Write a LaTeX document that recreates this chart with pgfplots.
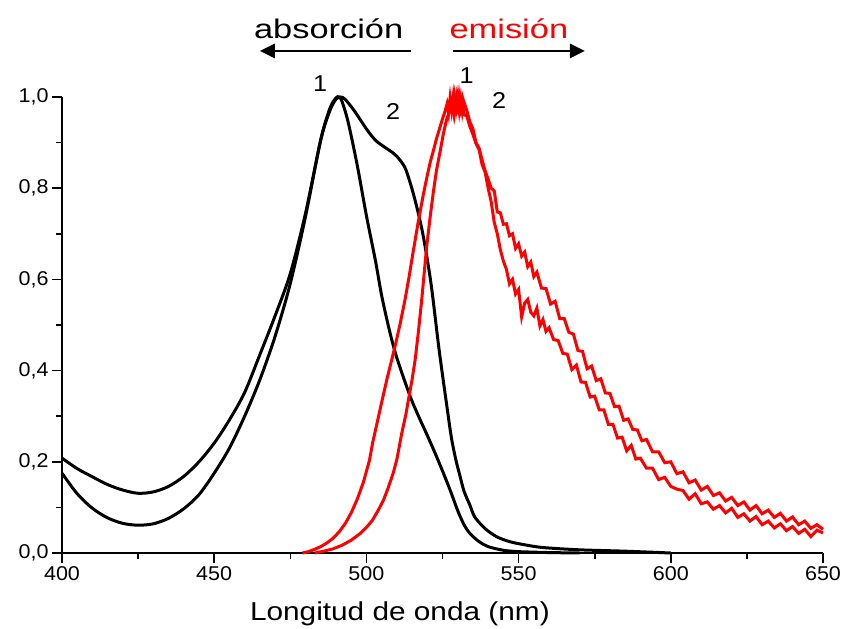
\documentclass[border=0pt]{standalone}
\usepackage{fontspec}
\setmainfont{Liberation Sans}
\newfontfamily\tickfont[FakeStretch=1.08]{Liberation Sans}
\newfontfamily\labfont[FakeStretch=1.15]{Liberation Sans}
\newfontfamily\titfont[FakeStretch=1.28]{Liberation Sans}
\newfontfamily\numfont[FakeStretch=1.1]{Liberation Sans}
\usepackage{pgfplots}
\pgfplotsset{compat=1.18}
\usetikzlibrary{arrows.meta}

\begin{document}
\begin{tikzpicture}
\begin{axis}[
  scale only axis, width=761bp, height=456bp,
  xmin=400, xmax=650, ymin=0, ymax=1,
  axis x line*=bottom, axis y line*=left,
  axis line style={line width=1.8bp},
  tick align=outside,
  major tick length=10bp, minor tick length=6bp,
  every tick/.style={line width=1.6bp, black},
  xtick={400,450,500,550,600,650}, minor x tick num=1,
  ytick={0,0.2,0.4,0.6,0.8,1.0}, minor y tick num=1,
  y tick label style={/pgf/number format/.cd, fixed, fixed zerofill, precision=1, use comma, assume math mode=true},
  x tick label style={/pgf/number format/.cd, fixed, precision=0, 1000 sep={}, assume math mode=true},
  tick label style={font=\tickfont\fontsize{20}{24}\selectfont},
  xlabel={Longitud de onda (nm)},
  xlabel style={font=\labfont\fontsize{26}{30}\selectfont, at={(axis description cs:0.444,0)}, anchor=base, yshift=-67bp},
  clip=false,
]
% absorption 1 (narrow)
\addplot[black, line width=3bp, smooth] coordinates {
(400,0.175) (405,0.130) (410,0.098) (415,0.077) (420,0.065) (425,0.061) (430,0.064)
(435,0.076) (440,0.097) (445,0.128) (450,0.175) (455,0.230) (460,0.300) (465,0.380)
(470,0.475) (475,0.591) (480,0.738) (485,0.906) (488,0.975) (490,0.998) (491,1.0)
(492,0.99) (494,0.945) (497,0.85) (500,0.74) (503,0.64) (505,0.565) (507.5,0.49)
(510,0.428) (514.3,0.345) (517,0.302) (520,0.258) (522.5,0.22) (525,0.180) (527.5,0.138)
(530,0.093) (532,0.063) (534,0.043) (537,0.025) (540,0.014) (545,0.006) (550,0.003)
(560,0.001) (570,0.0)
};
% absorption 2 (broad)
\addplot[black, line width=3bp, smooth] coordinates {
(400,0.208) (405,0.185) (410,0.167) (415,0.150) (420,0.138) (425,0.131) (430,0.134)
(435,0.146) (440,0.168) (445,0.200) (450,0.241) (455,0.292) (460,0.352) (465,0.435)
(470,0.52) (475,0.613) (480,0.745) (485,0.906) (488,0.97) (490,0.995)
(491.5,1.0) (493,0.995) (496,0.97) (500,0.93) (503,0.905) (506,0.89) (509,0.876)
(511,0.862) (513,0.84) (515.7,0.781) (518.5,0.701) (521.2,0.592) (523.9,0.445)
(526.6,0.314) (528,0.25) (529.4,0.204) (530.7,0.17) (532.1,0.135) (534,0.105)
(535.5,0.08) (538,0.06) (540,0.048) (543,0.035) (547,0.025) (552,0.018) (558,0.012)
(570,0.007) (585,0.004) (600,0.0)
};
% emission 1
\addplot[red, line width=3bp] coordinates {
(479,0.000) (481,0.003) (483,0.008) (485,0.014) (487,0.022) (489,0.032) (491,0.046)
(493,0.064) (495,0.088) (497,0.118) (499,0.155) (501,0.203) (502,0.240) (503.4,0.282)
(505,0.330) (506.7,0.380) (508,0.415) (509.4,0.453) (511,0.500) (512.7,0.556)
(514,0.605) (515.4,0.662) (517,0.725) (518.7,0.786) (520,0.828) (521,0.858)
(522,0.882) (523,0.908) (524,0.930) (525,0.952) (525.8,0.968) (526.5,0.985)
(527,0.965) (527.5,0.998) (528,0.972) (528.5,1.000) (529,0.968) (529.5,0.995)
(530,0.962) (530.5,1.000) (531,0.975) (531.5,0.992) (532,0.962) (533,0.958)
(534,0.935) (535,0.918) (536,0.898) (537,0.885) (538,0.852) (539,0.835) (540,0.800)
(541,0.770) (542,0.725) (543,0.700) (544,0.665) (545,0.640) (546,0.622) (547,0.590)
(548,0.600) (549,0.568) (550,0.578) (551,0.518) (552,0.548) (553,0.556) (554,0.528)
(555,0.520) (556,0.537) (557,0.498) (558,0.512) (559,0.486) (560,0.494) (561.5,0.468)
(563,0.466) (564.5,0.438) (566,0.436) (567.5,0.402) (569,0.412) (570.5,0.375)
(572,0.374) (573.5,0.342) (575,0.344) (576.5,0.314) (578,0.314) (579.5,0.282)
(581,0.282) (582.5,0.252) (584,0.254) (585.5,0.224) (587,0.236) (588.5,0.206)
(590,0.208) (592,0.186) (594,0.186) (596,0.161) (598,0.166) (600,0.146) (602,0.140)
(604,0.137) (606,0.118) (608,0.130) (610,0.108) (612,0.112) (614,0.096) (616,0.104)
(618,0.088) (620,0.098) (622,0.078) (624,0.086) (626,0.070) (628,0.080) (630,0.062)
(632,0.070) (634,0.055) (636,0.064) (638,0.049) (640,0.058) (642,0.043) (644,0.052)
(646,0.036) (648,0.050) (650,0.044)
};
% emission 2
\addplot[red, line width=3bp] coordinates {
(483,0.000) (486,0.004) (489,0.009) (492,0.017) (495,0.028) (498,0.043) (500,0.056)
(502,0.072) (504,0.095) (505.6,0.116) (507,0.140) (508.8,0.175) (510,0.205)
(511.6,0.262) (513,0.305) (513.8,0.336) (515,0.380) (516,0.423) (517,0.480)
(518.2,0.557) (519,0.615) (519.8,0.672) (521,0.740) (522,0.792) (523,0.838)
(524.2,0.880) (525.3,0.920) (526.4,0.952) (527.5,0.970) (528,0.985) (528.6,0.965)
(529,0.998) (529.5,0.975) (530,1.000) (530.5,0.970) (531,0.995) (531.5,0.968)
(532,0.990) (533,0.970) (534,0.945) (535,0.930) (536,0.900) (537,0.888) (538,0.862)
(539,0.838) (540,0.820) (541,0.800) (542,0.794) (543,0.748) (544,0.746) (545,0.721)
(546,0.722) (547,0.696) (548,0.700) (549,0.668) (550,0.678) (551,0.651) (552,0.660)
(553,0.628) (554,0.638) (555,0.606) (556,0.616) (557.5,0.581) (559,0.580)
(560.5,0.546) (562,0.552) (563.5,0.514) (565,0.514) (566.5,0.484) (568,0.480)
(569.5,0.444) (571,0.442) (572.5,0.404) (574,0.410) (575.5,0.378) (577,0.382)
(578.5,0.351) (580,0.350) (581.5,0.321) (583,0.322) (584.5,0.291) (586,0.294)
(587.5,0.271) (589,0.270) (590.5,0.246) (592,0.249) (594,0.222) (596,0.222)
(598,0.198) (600,0.200) (602,0.174) (604,0.178) (606,0.154) (608,0.160) (610,0.138)
(612,0.146) (614,0.126) (616,0.132) (618,0.114) (620,0.122) (622,0.104) (624,0.112)
(626,0.094) (628,0.104) (630,0.086) (632,0.094) (634,0.078) (636,0.087) (638,0.070)
(640,0.079) (642,0.062) (644,0.070) (646,0.054) (648,0.062) (650,0.052)
};
% annotations
\node[font=\titfont\fontsize{27}{32}\selectfont, anchor=base] at (axis cs:487.6,1.1287) {absorción};
\node[font=\titfont\fontsize{27}{32}\selectfont, anchor=base, text=red] at (axis cs:546.8,1.1287) {emisión};
\draw[line width=2.6bp, -{Triangle[length=15bp,width=14bp]}] (axis cs:514.7,1.101) -- (axis cs:465.0,1.101);
\draw[line width=2.6bp, -{Triangle[length=15bp,width=14bp]}] (axis cs:528.4,1.101) -- (axis cs:571.8,1.101);
\node[font=\numfont\fontsize{23}{27}\selectfont, anchor=base] at (axis cs:484.8,1.012) {1};
\node[font=\numfont\fontsize{23}{27}\selectfont, anchor=base] at (axis cs:508.8,0.950) {2};
\node[font=\numfont\fontsize{23}{27}\selectfont, anchor=base] at (axis cs:532.9,1.030) {1};
\node[font=\numfont\fontsize{23}{27}\selectfont, anchor=base] at (axis cs:543.6,0.975) {2};
\end{axis}
\path[use as bounding box] (-62bp,-75bp) rectangle (783bp,553bp);
\end{tikzpicture}
\end{document}
